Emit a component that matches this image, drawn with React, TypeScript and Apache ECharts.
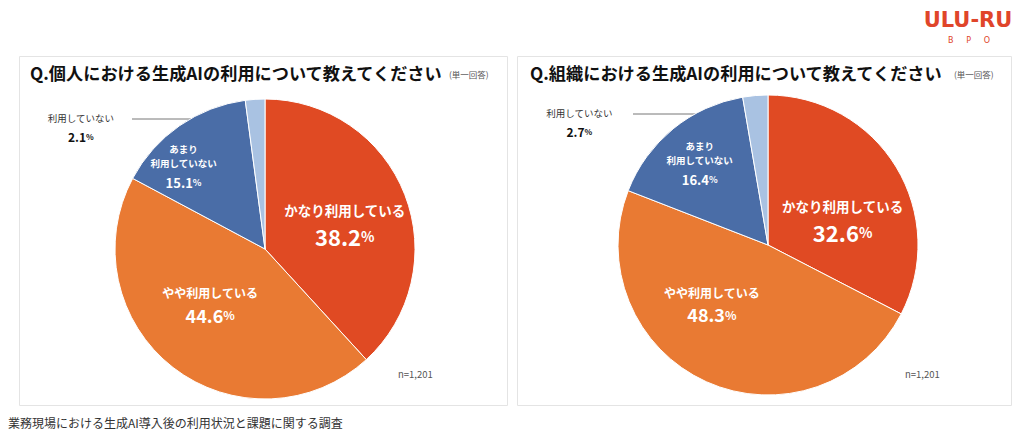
import React, { useEffect, useRef } from "react";
import * as echarts from "echarts";

// Answer categories, clockwise from 12 o'clock
const categories = ["かなり利用している", "やや利用している", "あまり利用していない", "利用していない"];
// Personal use (%)
const personalValues = [38.2, 44.6, 15.1, 2.1];
// Organisational use (%)
const orgValues = [32.6, 48.3, 16.4, 2.7];

const titles = ["Q.個人における生成AIの利用について教えてください", "Q.組織における生成AIの利用について教えてください"];
const sampleNote = "n=1,201";
const footnote = "業務現場における生成AI導入後の利用状況と課題に関する調査";

const colors = ["#E04A23", "#E97A33", "#4A6DA7", "#A9C2E2"];
const FONT = "'Noto Sans CJK JP', 'Noto Sans', sans-serif";

type Offsets = number[][];

function buildData(values: number[], offsets: Offsets) {
  return values.map((v, i) => {
    const pct = v.toFixed(1);
    let formatter = "";
    let rich: any = {};
    if (i === 0) {
      formatter = `{a|${categories[0]}}\n{n|${pct}}{p|%}`;
      rich = {
        a: { fontSize: 13.5, fontWeight: "bold", color: "#fff", lineHeight: 30, fontFamily: FONT },
        n: { fontSize: 22, fontWeight: "bold", color: "#fff", fontFamily: FONT },
        p: { fontSize: 14, fontWeight: "bold", color: "#fff", fontFamily: FONT },
      };
    } else if (i === 1) {
      formatter = `{a|${categories[1]}}\n{n|${pct}}{p|%}`;
      rich = {
        a: { fontSize: 12, fontWeight: "bold", color: "#fff", lineHeight: 26, fontFamily: FONT },
        n: { fontSize: 18, fontWeight: "bold", color: "#fff", fontFamily: FONT },
        p: { fontSize: 12, fontWeight: "bold", color: "#fff", fontFamily: FONT },
      };
    } else if (i === 2) {
      formatter = `{a|あまり}\n{a|利用していない}\n{n|${pct}}{p|%}`;
      rich = {
        a: { fontSize: 9.5, fontWeight: "bold", color: "#fff", lineHeight: 14, fontFamily: FONT },
        n: { fontSize: 13, fontWeight: "bold", color: "#fff", lineHeight: 26, fontFamily: FONT },
        p: { fontSize: 9, fontWeight: "bold", color: "#fff", lineHeight: 26, fontFamily: FONT },
      };
    } else {
      formatter = `{a|${categories[3]}}\n{n|${pct}}{p|%}`;
      rich = {
        a: { fontSize: 9.5, color: "#333", lineHeight: 19, fontFamily: FONT },
        n: { fontSize: 12, fontWeight: "bold", color: "#111", lineHeight: 19, fontFamily: FONT },
        p: { fontSize: 8, fontWeight: "bold", color: "#111", lineHeight: 19, fontFamily: FONT },
      };
    }
    return {
      name: categories[i],
      value: v,
      itemStyle: { color: colors[i] },
      label: {
        show: true,
        position: "inside",
        formatter,
        rich,
        align: "center",
        offset: offsets[i],
      },
    };
  });
}

function pieSeries(values: number[], center: number[], offsets: Offsets) {
  return {
    type: "pie",
    center,
    radius: 150,
    startAngle: 90,
    clockwise: true,
    silent: true,
    itemStyle: { borderColor: "#fff", borderWidth: 1 },
    labelLine: { show: false },
    data: buildData(values, offsets),
  };
}

export default function App() {
  const ref = useRef<HTMLDivElement>(null);

  useEffect(() => {
    if (!ref.current) return;
    const chart = echarts.init(ref.current, null, { renderer: "svg" });

    const titleText = (text: string, x: number) => ({
      type: "text",
      x,
      y: 72,
      style: { text, fontSize: 17.2, fontWeight: "bold", fill: "#111", fontFamily: FONT, verticalAlign: "middle" },
    });
    const noteText = (x: number) => ({
      type: "text",
      x,
      y: 74,
      style: { text: "(単一回答)", fontSize: 8.5, fill: "#555", fontFamily: FONT, verticalAlign: "middle" },
    });
    const leader = (x1: number, x2: number, y: number) => [
      { type: "line", shape: { x1, y1: y, x2, y2: y }, style: { stroke: "#777", lineWidth: 1 } },
      { type: "circle", shape: { cx: x2, cy: y, r: 1.6 }, style: { fill: "#555" } },
    ];

    chart.setOption({
      animation: false,
      backgroundColor: "#fff",
      graphic: [
        { type: "rect", shape: { x: 19.5, y: 56.5, width: 488, height: 349 }, style: { fill: "#fff", stroke: "#e4e4e4", lineWidth: 1 }, z: -10 },
        { type: "rect", shape: { x: 517.5, y: 56.5, width: 494, height: 349 }, style: { fill: "#fff", stroke: "#e4e4e4", lineWidth: 1 }, z: -10 },
        titleText(titles[0], 30),
        noteText(449),
        titleText(titles[1], 530),
        noteText(954),
        ...leader(132, 256, 119),
        ...leader(633, 757, 114),
        { type: "text", x: 398, y: 374, style: { text: sampleNote, fontSize: 9.5, fill: "#555", fontFamily: FONT, verticalAlign: "middle" } },
        { type: "text", x: 905, y: 374, style: { text: sampleNote, fontSize: 9.5, fill: "#555", fontFamily: FONT, verticalAlign: "middle" } },
        { type: "text", x: 8, y: 422, style: { text: footnote, fontSize: 12, fill: "#333", fontFamily: FONT, verticalAlign: "middle" } },
        { type: "text", x: 968, y: 20, style: { text: "ULU-RU", fontSize: 21, fontWeight: 900, fill: "#E0452A", fontFamily: "'DejaVu Sans', sans-serif", align: "center", verticalAlign: "middle" } },
        { type: "text", x: 969, y: 40, style: { text: "B     P     O", fontSize: 8, fill: "#E0452A", fontFamily: "'DejaVu Sans', sans-serif", align: "center", verticalAlign: "middle" } },
      ],
      series: [
        pieSeries(personalValues, [265, 249], [[7, 0], [-7, -9], [-37, -16], [-179, -44]]),
        pieSeries(orgValues, [768, 245], [[8, 13], [-24, -15], [-19, -19], [-182, -45]]),
      ],
    });

    return () => chart.dispose();
  }, []);

  return <div ref={ref} style={{ position: "fixed", left: 0, top: 0, width: 1024, height: 434 }} />;
}
